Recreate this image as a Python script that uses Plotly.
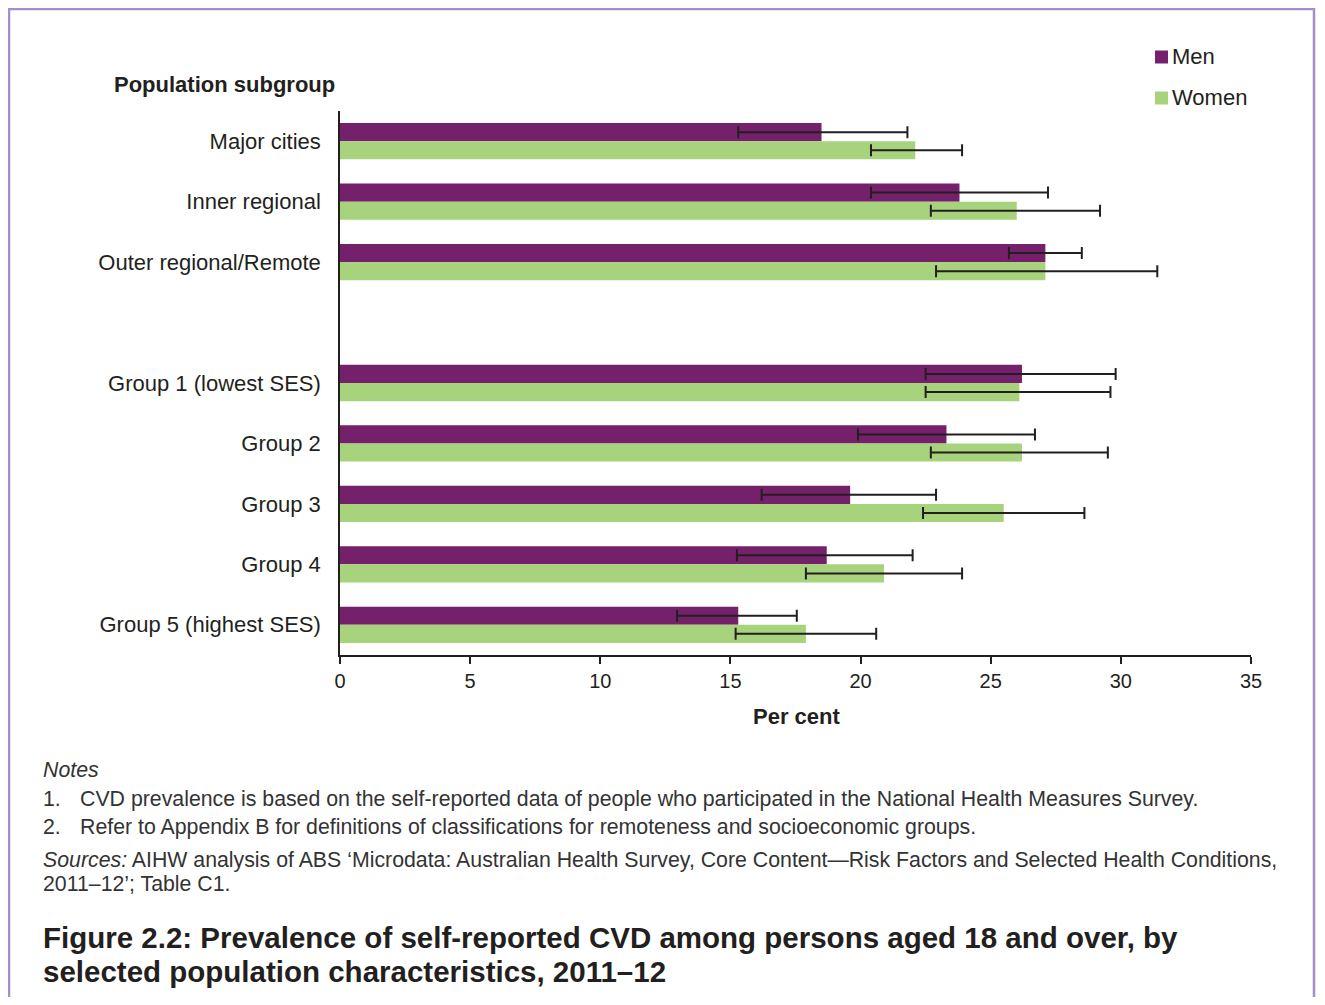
import plotly.graph_objects as go

# ---------------- data ----------------
categories_remoteness = ["Major cities", "Inner regional", "Outer regional/Remote"]
categories_ses = ["Group 1 (lowest SES)", "Group 2", "Group 3", "Group 4", "Group 5 (highest SES)"]

series_names = ["Men", "Women"]

men_values = [18.5, 23.8, 27.1, 26.2, 23.3, 19.6, 18.7, 15.3]
men_ci_low = [15.3, 20.4, 25.7, 22.5, 19.9, 16.2, 15.25, 12.95]
men_ci_high = [21.8, 27.2, 28.5, 29.8, 26.7, 22.9, 22.0, 17.55]

women_values = [22.1, 26.0, 27.1, 26.1, 26.2, 25.5, 20.9, 17.9]
women_ci_low = [20.4, 22.7, 22.9, 22.5, 22.7, 22.4, 17.9, 15.2]
women_ci_high = [23.9, 29.2, 31.4, 29.6, 29.5, 28.6, 23.9, 20.6]

x_ticks = [0, 5, 10, 15, 20, 25, 30, 35]

# ---------------- layout helpers ----------------
W, H = 1325, 1005
OFF = 8  # default page body margin
L, R, T, B = 340, 1251, 111, 655  # plot area in page pixels
FONT = "Liberation Sans, Arial, Helvetica, sans-serif"
TXT = "#231F20"
MEN_COLOR = "#74206A"
WOMEN_COLOR = "#A6D37B"


def px(x):
    return (x - L) / (R - L)


def py(y):
    return (B - y) / (B - T)


# category positions (a blank slot separates the two groupings)
categories = categories_remoteness + categories_ses
positions = list(range(len(categories_remoteness))) + [
    len(categories_remoteness) + 1 + i for i in range(len(categories_ses))
]
n_slots = len(categories_remoteness) + 1 + len(categories_ses)

fig = go.Figure()

for name, vals, lo, hi, color in [
    (series_names[0], men_values, men_ci_low, men_ci_high, MEN_COLOR),
    (series_names[1], women_values, women_ci_low, women_ci_high, WOMEN_COLOR),
]:
    fig.add_trace(
        go.Bar(
            name=name,
            y=positions,
            x=vals,
            orientation="h",
            marker=dict(color=color, line=dict(width=0)),
            error_x=dict(
                type="data",
                symmetric=False,
                array=[h - v for h, v in zip(hi, vals)],
                arrayminus=[v - l for l, v in zip(lo, vals)],
                color=TXT,
                thickness=2,
                width=6,
            ),
            showlegend=False,
        )
    )

annotations = []
shapes = []

# legend (manual)
legend_y = [57, 98]
for name, color, yc in zip(series_names, [MEN_COLOR, WOMEN_COLOR], legend_y):
    shapes.append(
        dict(
            type="rect", xref="paper", yref="paper",
            x0=px(1155), x1=px(1168), y0=py(yc + 6.5), y1=py(yc - 6.5),
            fillcolor=color, line=dict(width=0),
        )
    )
    annotations.append(
        dict(
            text=name, xref="paper", yref="paper", x=px(1170), y=py(yc),
            xanchor="left", yanchor="middle", showarrow=False,
            font=dict(family=FONT, size=22, color=TXT),
        )
    )

# axis titles
annotations.append(
    dict(
        text="<b>Population subgroup</b>", xref="paper", yref="paper",
        x=px(337), y=py(85), xanchor="right", yanchor="middle", showarrow=False,
        font=dict(family=FONT, size=22, color=TXT),
    )
)
annotations.append(
    dict(
        text="<b>Per cent</b>", xref="paper", yref="paper",
        x=px(796), y=py(716), xanchor="center", yanchor="middle", showarrow=False,
        font=dict(family=FONT, size=22, color=TXT),
    )
)

# notes
note_font = dict(family=FONT, size=21.3, color="#333333")
note_items = [
    (41, 770, "<i>Notes</i>"),
    (41, 799, "1."),
    (78, 799, "CVD prevalence is based on the self-reported data of people who participated in the National Health Measures Survey."),
    (41, 827, "2."),
    (78, 827, "Refer to Appendix B for definitions of classifications for remoteness and socioeconomic groups."),
    (41, 860, "<i>Sources:</i> AIHW analysis of ABS \u2018Microdata: Australian Health Survey, Core Content\u2014Risk Factors and Selected Health Conditions,"),
    (41, 884, "2011\u201312\u2019; Table C1."),
]
for x, y, t in note_items:
    annotations.append(
        dict(
            text=t, xref="paper", yref="paper", x=px(x), y=py(y),
            xanchor="left", yanchor="middle", showarrow=False, font=note_font,
        )
    )

title_font = dict(family=FONT, size=29.5, color=TXT)
for y, t in [
    (937, "<b>Figure 2.2: Prevalence of self-reported CVD among persons aged 18 and over, by</b>"),
    (971, "<b>selected population characteristics, 2011\u201312</b>"),
]:
    annotations.append(
        dict(
            text=t, xref="paper", yref="paper", x=px(41), y=py(y),
            xanchor="left", yanchor="middle", showarrow=False, font=title_font,
        )
    )

# outer purple frame
shapes.append(
    dict(
        type="rect", xref="paper", yref="paper",
        x0=px(9), x1=px(1314), y0=py(1030), y1=py(9),
        line=dict(color="#A48FCB", width=2.5), fillcolor="rgba(0,0,0,0)", layer="below",
    )
)

FIG_H = H - 2 * OFF

fig.update_layout(
    width=W - OFF,
    height=FIG_H,
    margin=dict(l=L - OFF, r=W - R, t=T - OFF, b=FIG_H - (B - OFF), pad=0),
    paper_bgcolor="white",
    plot_bgcolor="white",
    barmode="group",
    bargap=0.4,
    bargroupgap=0,
    font=dict(family=FONT, size=20, color=TXT),
    xaxis=dict(
        range=[0, 35],
        tickvals=x_ticks,
        ticktext=[str(t) for t in x_ticks],
        ticks="outside",
        ticklen=7,
        tickwidth=1.5,
        tickcolor=TXT,
        showline=True,
        linecolor=TXT,
        linewidth=2,
        showgrid=False,
        zeroline=False,
        tickfont=dict(family=FONT, size=20, color=TXT),
        fixedrange=True,
    ),
    yaxis=dict(
        range=[n_slots - 0.5, -0.5],
        tickvals=positions,
        ticktext=categories,
        ticks="",
        ticklabelstandoff=13,
        showline=True,
        linecolor=TXT,
        linewidth=1.5,
        showgrid=False,
        zeroline=False,
        tickfont=dict(family=FONT, size=22, color=TXT),
        fixedrange=True,
    ),
    annotations=annotations,
    shapes=shapes,
)

fig.write_html("out.html")
